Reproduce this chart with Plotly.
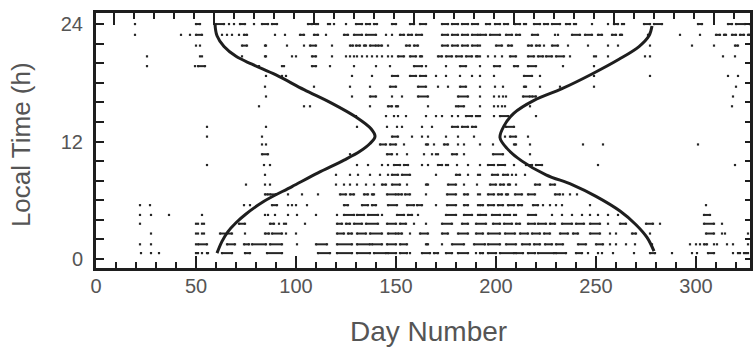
import plotly.graph_objects as go

# ---------------- data ----------------
x_tick_vals = [0, 50, 100, 150, 200, 250, 300]
y_tick_vals = [0, 12, 24]

# hour level of each row of observations (bottom to top)
obs_hours = [0.6, 1.5, 2.6, 3.6, 4.5, 5.5, 6.6, 7.6, 8.6, 9.6, 10.7, 11.7,
             12.5, 13.5, 14.6, 15.6, 16.6, 17.6, 18.7, 19.7, 20.7, 21.8, 22.9, 24.0]

# observed days per row: single day or [first, last] day of a dash
h00 = [22.5, 27.5, 31.5, 50, 51, 53, 55.5, 56, [63, 68], [74.5, 77], [85.5, 93], [111, 117],
       [120.5, 128], [130.5, 137], [139, 145], [146, 150], [152, 155.5], 157, [163, 167], [169, 171],
       [175, 178], [181, 186], 190, [192, 193.5], [196, 200], [202, 209], [210, 213.5], [216, 219.5],
       [221, 229], [230, 235], [240, 243], 246, 251, 253, 258.5, 269, [277, 279.5], 288, 298, 300.5,
       [306, 309], 318.5, 321, 322, 324, 325, 326, 329]
h01 = [22, 27.5, 50, [51, 55.5], [65.5, 69.5], [74, 76.5], [78, 85], [87, 93], 100.5, [110, 115.5],
       [120.5, 128], [130.5, 137], [138, 143], [145.5, 150], [152, 155.5], [165, 166], 173, [178, 184],
       [189, 194.5], [196, 202], [205, 210], [213, 217], [219, 222], [224.5, 228], [230, 233.5], [241, 245],
       [250, 253.5], 257, 260, 265, 269.5, 278, 297, 300, 302, [304, 305.5], 309, 310.5, 315.5, 318.5, 326]
h02 = [27.5, 50, 51, 53, 54, [62, 68], 74.5, [84.5, 86.5], [88, 93], 95, 100, [120.5, 124], [126, 128],
       [130.5, 135], [137, 143], [146, 150], [151, 153], 157, [162, 166], [173, 176], [181, 186],
       [190, 193.5], [196, 202], [204.5, 209.5], [212, 216], [218, 222], [224, 227], [232, 236],
       [238.5, 241], [247, 252], 257, 260, [268, 270], 277, [305, 309], 313, 314.5, 326]
h03 = [22, 50, 51, 53, 54, [71.5, 74.5], [87, 89], 91.5, 94, 95, 104.5, [120.5, 123], [125, 127],
       [129, 133], [135, 141], [145.5, 150], [152, 155], 159, 165, [173, 178], [183, 186], [190, 195],
       [198.5, 202], [204, 208], [210, 212], [216, 219.5], [221, 225], [227, 229.5], [233, 238],
       [240, 244], [247, 252], 256, [262, 265], [275, 278.5], 282, [304, 309], 313]
h04 = [22, 27.5, 36.5, 53, 84.5, 86, 89.5, 96, 100.5, 110, 120.5, [124, 129], [130.5, 134], [136, 141],
       143, [150.5, 154], [156, 158], 161, [175, 180], [184, 188], 191, [192, 195], [198, 202], [204, 207],
       [209, 210], [216, 220], 228, 233, 238, 243, 247, 251, 256, 261, [304, 307], 329]
h05 = [22, 27, 74, 77, [88, 90.5], 96, 98, 100, 105.5, [124, 126], [133, 136], [138, 140], [146, 150.5],
       [155.5, 159], [160.5, 163], 170, [175.5, 180], [184, 186], 191, [192, 193.5], [196, 199],
       [201, 203.5], [206, 209], [211, 213], [218.5, 221], 223.5, 227, 230, 233, 247, 305, 329]
h06 = [[84.5, 86], [87, 90], 96, 103, 111, [122, 125], [127, 129], [134, 136], [138, 139], [145.5, 150],
       [151, 153], [154.5, 157], 165, [175.5, 180], [184, 186], 191, 192, [196, 199], [201, 203], [205, 206],
       [209.5, 213], [216, 219.5], [229.5, 232], 233.5, 237, 240.5]
h07 = [75, 84.5, 87, 120, 124, 127, 130.5, 135, 139, [143, 145], [148, 152], 155.5, [165, 166],
       [176, 180], 184, 190.5, [197, 200], [202, 204], [206, 207], 210, [219.5, 222], [227, 229.5], 329]
h08 = [84.5, 120, 127, 131, 137, 142, 146, [148, 151], [153, 157], 170, [180, 182], 186, 191, 192,
       [198, 201], [203.5, 206], 208, 210, 214.5]
h09 = [55.5, 84, 87, 130.5, 136, 143, 146, [149, 152], [154, 156], 163, 166, [171, 173], [175, 176],
       180.5, 186, 192, [196, 199], [201, 204.5], 209, [215, 218], [220, 223], 251, 319.5, 329]
h10 = [[83, 86], 127, [145.5, 148], 150.5, 155.5, 164, 168, 170, 171, [178, 180.5], 184,
       [198.5, 203.5], 217]
h11 = [83, 85, [142, 145], [147, 150], 154, [165, 166], 169, [174, 176], 181, 184, 192, 198.5,
       [209, 210], 217, 243.5, 253.5, 301]
h12 = [55.5, 83, [148, 151], 158, 163, 166, 175, 181, 189, 204.5, [207, 210], 216]
h13 = [55.5, 85, 130.5, 145.5, 150.5, 153, 163, 168, [178, 181], [183, 186], [188, 190], [205, 209], 329.5]
h14 = [130, 145, 149, 151, 155, 165, 170, 173, 178, 181, [185, 188], [190, 191], 192, 199, [202, 206],
       220, 329.5]
h15 = [81.5, 104, 107, 137, [146, 148], [150, 151], 166, 180, [181, 184], 192, 199, 201, 203, 204.5,
       217, 318, 329.5]
h16 = [85, 128, [137, 140], 148, 153, [161, 166], [181, 186], 192, 199, 201.5, 203.5, 205,
       [213.5, 217], [218, 220], 318.5, 329.5]
h17 = [84.5, 109, 127, 137, [147, 150], [161, 165], 171, 176, [182, 185], 192, 199.5, 203.5, [214, 215],
       222, 232, 249, 320, 329.5]
h18 = [85, 93, 95, 128, 138, [148, 151], [157, 160], [162, 165], 170, 175, 182, 188, 192, 199,
       [214, 218], 222, 249, 277, 316, 321, 329.5]
h19 = [25.5, 49.5, [51, 54.5], 81.5, 93, 94, [108, 110], 117, 129, 140, 147, [159, 163], 165, 175,
       [182, 185], 192, [199, 202], [209, 211], [216, 220], 233.5, 249]
h20 = [25.5, 52, 53, 73, [84.5, 85], 98, 100, [108, 110], 118, 125, 127, 129, 130.5, 133, 135.5, 138,
       140.5, 143, 146, 148, [151, 154], [157, 160], [162, 163], [171, 173], [175, 178], [180, 183],
       [185, 188], [190, 191], 192, 196, 199.5, 203, [207, 210], [216, 219], [221, 223.5], [225, 228],
       [230, 234], 237, 249, 250, 256, 274.5, 277, 313.5, 319.5, 329]
h21 = [50, 52, [73, 75.5], [84.5, 85], 95.5, 104, [107, 110], 118, [127, 128.5], [130, 132], [134, 135],
       [137, 140], [141, 143], 146, [155, 157], [159, 161], [173, 176], [178, 181], [183, 186], [188, 191],
       192, [200, 203], [206, 208], [216, 218], [220, 222], 224, [228, 231], 236, 246, 256, 261, 277,
       298, 309, [319.5, 321], 329]
h22 = [19.5, 42.5, 47, [50, 53], 63, 65.5, 68, 71.5, [74, 75.5], 89.5, 94.5, [102, 104], [109, 111],
       115, [124, 126], [129, 133], [135, 140], 145, 148, [152, 154], [156, 158], [160, 163], [173, 176],
       [178, 181], [183, 186], [188, 191], [192, 195], [197, 202], [205, 208], [210, 212], [218, 221],
       229.5, 231, [238, 242], [244.5, 248], [251, 253], [258, 260], [262, 263], 276, 292, 302,
       [310, 312], [314, 315], [318, 320], [322, 324], [326, 327], [328, 330]]
h23 = [19.5, [50, 52], [60, 64], 66.5, 69, [72, 74.5], 79, [83, 86], [88, 90.5], [106, 108], [110, 111],
       [116, 117], 119, 125, [130, 133], [135, 137], [139, 140.5], [148, 150], [157, 159], [162, 165],
       [173, 176], [178, 181], [183, 186], [188, 191], [195, 197], [199.5, 202], [204, 206], [209.5, 212],
       [214, 215], [219, 222], [224, 226], [228, 232], [235, 237], [239, 240], 248, 256, [259, 261],
       [263, 264], [274, 277], [279, 283], [301, 303], [316, 318], [320, 324.5], [327, 329]]

# the two smooth curves
left_curve_day = [60.5, 63, 66, 70, 75, 84, 98, 111, 124, 132, 137, 139.5, 137.5, 130, 118, 104,
                  90, 78, 70, 64, 60.5, 59.5]
left_curve_hour = [0.6, 1.8, 2.8, 3.7, 4.6, 5.9, 7.4, 8.8, 10.1, 11.0, 11.8, 12.5, 13.3, 14.5, 15.9,
                   17.3, 18.8, 19.9, 20.7, 21.7, 22.8, 24.0]
right_curve_day = [279, 275.5, 270, 262, 250, 238, 225, 213, 205.5, 202, 204, 209, 219, 233, 248,
                   261.5, 271.5, 276.5, 278]
right_curve_hour = [0.8, 2.2, 3.5, 4.9, 6.4, 7.6, 8.6, 10.0, 11.3, 12.4, 13.6, 14.9, 16.2, 17.4,
                    18.9, 20.4, 21.7, 22.8, 23.8]

# ---------------- figure ----------------
rows = [h00, h01, h02, h03, h04, h05, h06, h07, h08, h09, h10, h11,
        h12, h13, h14, h15, h16, h17, h18, h19, h20, h21, h22, h23]

xs, ys = [], []
for hr, row in zip(obs_hours, rows):
    for item in row:
        if isinstance(item, list):
            xs += [item[0], item[1], None]
            ys += [hr, hr, None]
        else:
            xs += [item, None]
            ys += [hr, None]

INK = "#1e1e1e"
TXT = "#555555"

fig = go.Figure()
fig.add_trace(go.Scatter(x=xs, y=ys, mode="lines+markers",
                         line=dict(color="#262626", width=2.0),
                         marker=dict(symbol="square", size=2.2, color="#262626", line=dict(width=0)),
                         hoverinfo="skip", connectgaps=False))
fig.add_trace(go.Scatter(x=left_curve_day, y=left_curve_hour, mode="lines",
                         line=dict(color=INK, width=3, shape="spline", smoothing=1.0), hoverinfo="skip"))
fig.add_trace(go.Scatter(x=right_curve_day, y=right_curve_hour, mode="lines",
                         line=dict(color=INK, width=3, shape="spline", smoothing=1.0), hoverinfo="skip"))
# invisible trace to carry the secondary (top / right) frame axes
fig.add_trace(go.Scatter(x=[100], y=[12], xaxis="x2", yaxis="y2", mode="markers",
                         marker=dict(opacity=0), hoverinfo="skip"))

yr = [-0.92, 25.13]
frame = dict(showline=True, linewidth=3, linecolor=INK, showgrid=False, zeroline=False,
             ticks="inside", tickcolor=INK, tickwidth=2, automargin=False)

fig.update_layout(
    width=755, height=349,
    margin=dict(l=96, r=5, t=13, b=81, autoexpand=False),
    plot_bgcolor="white", paper_bgcolor="white", showlegend=False,
    font=dict(family="Liberation Sans, Arial, sans-serif", color=TXT, size=20),
    xaxis=dict(range=[0, 327], tickvals=x_tick_vals, ticklen=12, ticklabelstandoff=-2,
               tickfont=dict(size=20, color=TXT),
               minor=dict(dtick=10, tick0=0, ticks="inside", ticklen=6, tickwidth=2, tickcolor=INK),
               **frame),
    xaxis2=dict(range=[-9, 318], overlaying="x", side="top", anchor="y", tickvals=x_tick_vals,
                ticklen=12, showticklabels=False,
                minor=dict(dtick=10, tick0=0, ticks="inside", ticklen=6, tickwidth=2, tickcolor=INK),
                **frame),
    yaxis=dict(range=yr, tickvals=y_tick_vals, ticklen=8, ticklabelstandoff=6,
               tickfont=dict(size=20, color=TXT),
               minor=dict(dtick=2, tick0=0, ticks="inside", ticklen=8, tickwidth=2, tickcolor=INK),
               **frame),
    yaxis2=dict(range=yr, overlaying="y", side="right", anchor="x", tickvals=list(range(0, 25, 2)),
                ticklen=5, showticklabels=False, **frame),
    annotations=[
        dict(text="Local Time (h)", xref="paper", yref="paper", x=(21 - 96) / 654, y=0.482,
             xanchor="center", yanchor="middle", textangle=-90, showarrow=False,
             font=dict(size=26, color=TXT)),
        dict(text="Day Number", xref="paper", yref="paper", x=(428 - 96) / 654, y=(268 - 331) / 255,
             xanchor="center", yanchor="middle", showarrow=False,
             font=dict(size=28, color=TXT)),
    ],
)

fig.write_html("out.html", config={"displayModeBar": False, "staticPlot": True},
               post_script="document.body.style.margin='0px';")
